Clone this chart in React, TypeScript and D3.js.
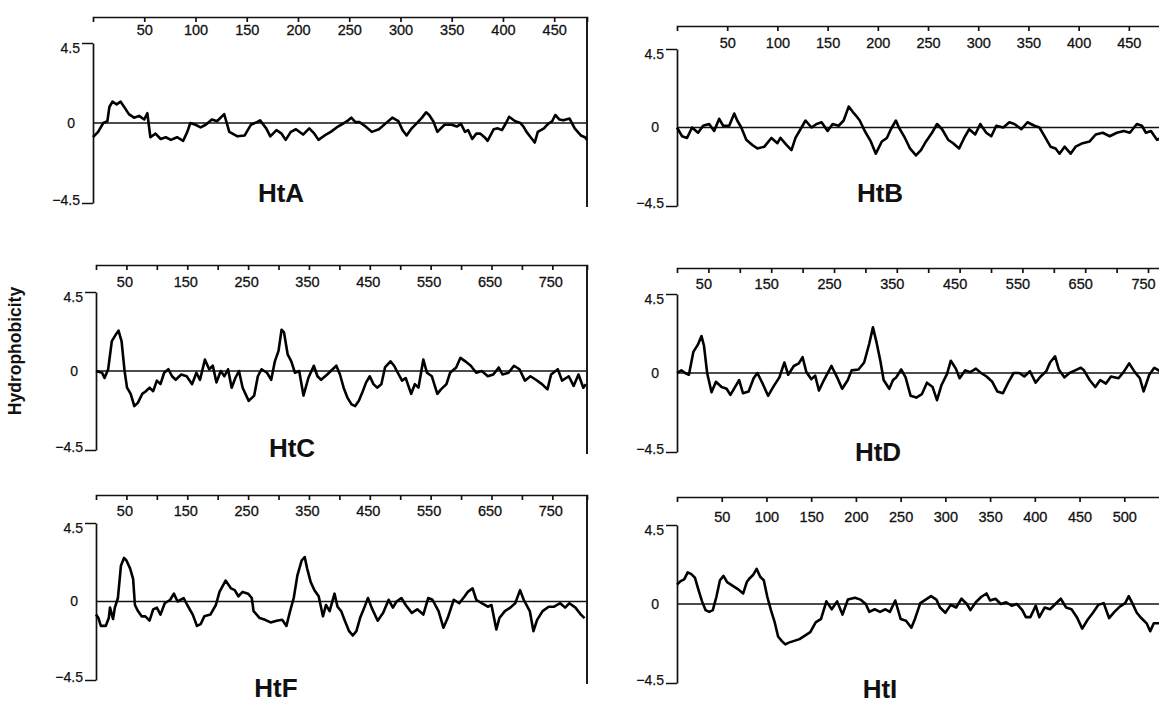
import React, { useEffect, useRef } from 'react';
import * as d3 from 'd3';

// hydrophobicity profiles: [residue, value]
const htA = [[0,-0.8],[5,-0.5],[10,0],[14,0.1],[16,0.9],[19,1.2],[23,1.05],[27,1.2],[31,0.85],[35,0.5],[40,0.3],[45,0.4],[50,0.2],[53,0.55],[56,-0.8],[61,-0.6],[66,-0.9],[71,-0.8],[76,-0.95],[82,-0.8],[88,-1.0],[92,-0.5],[95,0],[100,-0.1],[105,-0.25],[110,-0.1],[116,0.2],[121,0.1],[128,0.5],[133,-0.5],[141,-0.75],[148,-0.7],[154,-0.1],[160,0.05],[163,0.15],[169,-0.3],[173,-0.75],[179,-0.4],[184,-0.6],[188,-0.95],[193,-0.5],[198,-0.35],[205,-0.65],[211,-0.3],[216,-0.6],[220,-0.95],[226,-0.7],[232,-0.5],[239,-0.2],[245,0],[249,0.15],[252,0.3],[256,0.05],[260,0.05],[266,-0.2],[272,-0.5],[279,-0.35],[287,0.05],[292,0.3],[298,0.1],[302,-0.4],[306,-0.7],[311,-0.3],[317,0.05],[321,0.3],[325,0.6],[328,0.45],[332,0.1],[336,-0.5],[343,-0.1],[350,-0.1],[355,-0.2],[359,-0.05],[363,-0.5],[366,-0.4],[370,-0.9],[374,-0.6],[378,-0.6],[382,-0.8],[385,-1.0],[391,-0.35],[395,-0.3],[399,-0.4],[403,0],[406,0.35],[412,0.1],[417,0],[420,-0.2],[423,-0.5],[427,-0.8],[431,-1.1],[434,-0.5],[440,-0.3],[444,-0.05],[448,0.1],[451,0.45],[455,0.2],[459,0.15],[465,0.25],[470,-0.3],[476,-0.7],[480,-0.8],[482,-0.95]];

const htB = [[0,0],[5,-0.5],[10,-0.6],[15,0],[21,-0.3],[26,0.1],[32,0.2],[37,-0.2],[42,0.5],[46,0.1],[52,0.1],[57,0.8],[60,0.4],[64,0],[69,-0.7],[75,-1.0],[80,-1.2],[87,-1.1],[94,-0.6],[100,-0.9],[103,-0.6],[109,-1.0],[114,-1.3],[118,-0.6],[123,-0.1],[128,0.4],[134,0],[139,0.2],[144,0.3],[150,-0.2],[155,0.2],[161,0.1],[166,0.4],[171,1.2],[175,0.9],[178,0.7],[182,0.4],[187,-0.2],[193,-0.8],[198,-1.5],[204,-0.8],[209,-0.6],[213,-0.1],[218,0.4],[221,0],[227,-0.6],[232,-1.2],[238,-1.6],[243,-1.3],[248,-0.8],[254,-0.3],[259,0.2],[264,-0.1],[270,-0.7],[275,-0.9],[281,-1.2],[286,-0.6],[291,-0.1],[297,-0.4],[302,0.2],[308,-0.3],[313,-0.5],[318,0.1],[325,0],[331,0.3],[336,0.2],[343,-0.1],[349,0.3],[356,0.1],[361,0],[367,-0.6],[372,-1.1],[377,-1.2],[381,-1.5],[386,-1.1],[392,-1.5],[397,-1.1],[404,-0.9],[411,-0.8],[417,-0.4],[424,-0.3],[431,-0.5],[438,-0.3],[445,-0.2],[451,-0.3],[458,0.2],[463,0.1],[467,-0.3],[472,-0.2],[478,-0.7],[483,-0.6],[488,-0.5],[492,-0.6]];

const htC = [[0,0],[10,-0.1],[14,-0.4],[20,0.1],[26,1.7],[33,2.1],[37,2.3],[42,1.7],[47,0],[51,-0.95],[57,-1.3],[63,-2.0],[69,-1.8],[76,-1.3],[82,-1.15],[88,-0.95],[94,-1.15],[100,-0.55],[106,-0.75],[112,-0.1],[119,0.1],[125,-0.3],[131,-0.5],[140,-0.2],[149,-0.3],[158,-0.75],[165,-0.1],[171,-0.5],[179,0.65],[186,0.1],[192,0.3],[198,-0.65],[205,0],[211,-0.3],[217,0.1],[223,-0.95],[229,-0.4],[235,0],[241,-0.95],[251,-1.7],[260,-1.4],[266,-0.3],[272,0.1],[281,-0.1],[288,-0.5],[294,0.55],[300,1.15],[305,2.35],[309,2.2],[315,0.95],[321,0.55],[327,-0.1],[334,0],[341,-1.4],[349,-0.4],[358,0.3],[364,-0.3],[370,-0.5],[380,-0.2],[389,0.1],[395,0.3],[401,-0.2],[407,-0.95],[413,-1.5],[420,-1.9],[426,-2.0],[432,-1.7],[438,-1.2],[444,-0.65],[450,-0.3],[456,-0.75],[462,-0.95],[469,-0.75],[475,0.2],[484,0.55],[490,0.3],[496,-0.1],[503,-0.55],[509,-0.4],[518,-1.3],[524,-0.75],[530,-0.95],[538,0.65],[544,-0.1],[552,-0.3],[561,-1.3],[567,-1.05],[576,-0.75],[582,-0.1],[592,0.2],[599,0.75],[607,0.55],[616,0.3],[625,-0.1],[634,0],[644,-0.3],[653,-0.2],[662,0.2],[668,-0.2],[678,-0.1],[687,0.3],[696,0.1],[705,-0.55],[714,-0.3],[723,-0.5],[733,-0.75],[742,-1.05],[748,-0.2],[759,0.1],[766,-0.55],[777,-0.3],[785,-0.85],[793,-0.2],[801,-0.95],[805,-0.75]];

const htD = [[0,0],[7,0.15],[13,0],[19,-0.1],[26,1.2],[33,1.6],[39,2.1],[43,1.55],[48,0],[55,-1.1],[62,-0.5],[71,-0.8],[79,-0.9],[85,-1.25],[94,-0.7],[99,-0.4],[105,-1.15],[114,-1.05],[122,-0.3],[128,0],[137,-0.65],[145,-1.3],[154,-0.75],[163,-0.25],[171,0.6],[177,-0.1],[186,0.4],[194,0.55],[200,0.9],[206,0.05],[214,-0.35],[220,-0.15],[226,-1.0],[234,-0.4],[246,0.4],[255,-0.25],[263,-0.9],[272,-0.4],[278,0.15],[289,0.2],[298,0.6],[306,1.65],[312,2.6],[318,1.7],[324,0.65],[329,-0.4],[338,-0.9],[344,-0.4],[349,-0.25],[357,0.2],[364,-0.25],[372,-1.3],[381,-1.4],[390,-1.2],[398,-0.55],[407,-0.8],[414,-1.55],[421,-0.7],[430,-0.05],[436,0.7],[444,0.25],[450,-0.3],[459,0.15],[467,0.05],[476,0.25],[484,0],[493,-0.2],[502,-0.5],[510,-1.05],[519,-1.15],[528,-0.5],[536,0],[545,0],[553,-0.2],[562,0.1],[571,-0.55],[579,-0.2],[588,0.1],[594,0.6],[602,0.95],[608,0.2],[617,-0.25],[625,0],[634,0.15],[643,0.3],[648,0.15],[657,-0.4],[666,-0.8],[674,-0.4],[683,-0.6],[691,-0.2],[703,-0.3],[711,0.05],[720,0.55],[729,0.05],[737,-0.3],[743,-1.05],[752,-0.1],[760,0.3],[769,0.1],[775,0],[785,-0.2]];

const htF = [[0,-0.75],[4,-0.95],[8,-1.4],[16,-1.4],[21,-0.95],[23,-0.35],[28,-1.0],[31,-0.35],[36,0.2],[41,2.05],[46,2.5],[50,2.35],[56,1.9],[61,1.3],[64,-0.2],[69,-0.55],[75,-0.85],[81,-0.85],[88,-1.1],[94,-0.45],[100,-0.35],[106,-0.75],[113,-0.1],[122,0.1],[128,0.45],[134,0],[144,0.2],[150,-0.2],[159,-0.75],[166,-1.4],[172,-1.3],[178,-0.85],[188,-0.75],[197,-0.2],[203,0.55],[213,1.2],[222,0.75],[228,0.65],[234,0.3],[241,0.55],[250,0.45],[256,0.2],[259,-0.55],[269,-0.95],[278,-1.05],[287,-1.2],[297,-1.1],[306,-1.05],[313,-1.4],[319,-0.55],[325,0.2],[331,1.5],[338,2.35],[343,2.55],[347,1.9],[353,1.1],[359,0.65],[366,0.3],[373,-0.85],[378,-0.2],[384,-0.55],[392,0.45],[397,-0.3],[403,-0.55],[409,-1.1],[416,-1.7],[422,-1.95],[428,-1.7],[434,-0.95],[441,-0.35],[447,0.2],[453,-0.35],[463,-1.1],[472,-0.65],[481,0.1],[488,-0.35],[494,0],[502,0.2],[509,-0.2],[519,-0.65],[528,-0.45],[538,-0.75],[546,0.2],[553,0.1],[563,-0.55],[571,-1.5],[578,-0.95],[588,0.1],[597,-0.1],[606,0.3],[611,0.55],[619,0.75],[625,0.1],[634,-0.1],[644,-0.3],[650,-0.2],[658,-1.6],[663,-0.95],[672,-0.55],[681,-0.35],[689,-0.1],[697,0.65],[703,0.1],[713,-0.55],[719,-1.7],[725,-1.05],[734,-0.55],[744,-0.3],[753,-0.3],[763,-0.1],[771,-0.35],[778,-0.1],[788,-0.35],[797,-0.75],[803,-0.95]];

const htI = [[0,1.1],[4,1.3],[8,1.4],[12,1.8],[16,1.7],[20,1.5],[24,0.8],[28,0.15],[32,-0.35],[36,-0.45],[40,-0.35],[44,0.4],[48,1.35],[52,1.6],[56,1.25],[62,1.05],[68,0.85],[74,0.6],[78,1.25],[81,1.45],[85,1.65],[89,2.0],[93,1.55],[97,1.35],[101,0.4],[105,-0.35],[109,-1.0],[113,-1.85],[117,-2.1],[121,-2.3],[125,-2.2],[131,-2.1],[137,-2.0],[143,-1.8],[149,-1.6],[155,-1.05],[161,-0.85],[167,0.15],[173,-0.3],[179,0.15],[185,-0.6],[191,0.25],[199,0.35],[205,0.25],[211,0],[215,-0.45],[221,-0.3],[227,-0.45],[233,-0.3],[238,-0.45],[244,0.2],[250,-0.85],[256,-0.95],[262,-1.35],[266,-0.85],[272,0.05],[278,0.25],[284,0.45],[290,0.25],[294,-0.2],[300,-0.5],[306,-0.05],[312,-0.2],[318,0.3],[324,0],[328,-0.35],[334,0.1],[340,0.4],[346,0.6],[350,0.2],[356,0.3],[362,0],[368,0.1],[374,-0.1],[380,0],[386,-0.35],[390,-0.75],[395,-0.75],[401,-0.1],[405,-0.75],[411,-0.2],[417,-0.3],[423,0],[429,0.3],[435,-0.2],[441,-0.3],[447,-0.75],[453,-1.4],[459,-0.9],[465,-0.5],[471,-0.05],[477,0.05],[483,-0.8],[489,-0.45],[495,-0.15],[501,0.05],[505,0.45],[509,0.05],[514,-0.5],[519,-0.8],[525,-1.1],[529,-1.55],[533,-1.1],[540,-1.1],[548,-1.0]];

const ticks450 = [50, 100, 150, 200, 250, 300, 350, 400, 450];
const ticks750 = [50, 100, 150, 200, 250, 300, 350, 400, 450, 500, 550, 600, 650, 700, 750];
const labels750 = [50, 150, 250, 350, 450, 550, 650, 750];
const ticks500 = [50, 100, 150, 200, 250, 300, 350, 400, 450, 500];
const yLabels = [4.5, 0, -4.5];

const panels = [
  { name: 'HtA', data: htA, len: 482, ticks: ticks450, labels: ticks450, left: 93, right: 587, axisY: 17, lab: 13, ldx: 0, top: 43, bot: 203, tx: 281, ty: 202 },
  { name: 'HtB', data: htB, len: 490, ticks: ticks450, labels: ticks450, left: 677, right: 1169, axisY: 26, lab: 17, ldx: 0, top: 49, bot: 206, tx: 880, ty: 202 },
  { name: 'HtC', data: htC, len: 807, ticks: ticks750, labels: labels750, left: 96, right: 587, axisY: 265, lab: 17, ldx: -2, top: 292, bot: 450, tx: 292, ty: 457 },
  { name: 'HtD', data: htD, len: 785, ticks: ticks750, labels: labels750, left: 677, right: 1170, axisY: 268, lab: 16, ldx: -5, top: 294, bot: 452, tx: 878, ty: 461 },
  { name: 'HtF', data: htF, len: 807, ticks: ticks750, labels: labels750, left: 96, right: 587, axisY: 495, lab: 16, ldx: -2, top: 523, bot: 680, tx: 276, ty: 697 },
  { name: 'HtI', data: htI, len: 550, ticks: ticks500, labels: ticks500, left: 677, right: 1169, axisY: 497, lab: 20, ldx: 0, top: 525, bot: 683, tx: 880, ty: 698 },
];

const font = '"Liberation Sans", Arial, Helvetica, sans-serif';

const App = () => {
  const svgRef = useRef(null);

  useEffect(() => {
    const svg = d3.select(svgRef.current);
    svg.selectAll('*').remove();

    panels.forEach(p => {
      const x = d3.scaleLinear().domain([0, p.len]).range([p.left, p.right]);
      const y = d3.scaleLinear().domain([-4.5, 4.5]).range([p.bot, p.top]);
      const g = svg.append('g');

      // top residue axis, labels hang below the ticks
      const xAxis = d3.axisBottom(x)
        .tickValues(p.ticks)
        .tickSize(5)
        .tickSizeOuter(5)
        .tickPadding(p.lab - 10)
        .tickFormat(d => (p.labels.includes(d) ? String(d) : ''));
      const ax = g.append('g').attr('transform', `translate(0,${p.axisY})`).call(xAxis);
      ax.select('.domain').attr('stroke', '#111').attr('stroke-width', 1.7);
      ax.selectAll('.tick line').attr('stroke', '#111').attr('stroke-width', 1.7);
      ax.selectAll('text').attr('font-family', font).attr('font-size', 14.5).attr('fill', '#111')
        .attr('stroke', '#111').attr('stroke-width', 0.3)
        .attr('dx', p.ldx);

      // right border
      g.append('line')
        .attr('x1', p.right).attr('x2', p.right)
        .attr('y1', p.axisY).attr('y2', p.bot + 4)
        .attr('stroke', '#111').attr('stroke-width', 1.9);

      // hydrophobicity axis
      const yAxis = d3.axisLeft(y).tickValues(yLabels).tickSize(11).tickSizeOuter(0).tickPadding(2)
        .tickFormat(d => (d < 0 ? '\u2212' + Math.abs(d) : String(d)));
      const ay = g.append('g').attr('transform', `translate(${p.left},0)`).call(yAxis);
      ay.select('.domain').attr('stroke', '#111').attr('stroke-width', 1.7);
      ay.selectAll('.tick line').attr('stroke', '#111').attr('stroke-width', 1.5)
        .attr('x2', d => (d === 0 ? 0 : -11));
      ay.selectAll('text').attr('font-family', font).attr('font-size', 14).attr('fill', '#111')
        .attr('stroke', '#111').attr('stroke-width', 0.25)
        .attr('x', d => (d === 0 ? -18 : -13))
        .attr('dy', d => (d > 0 ? '0.65em' : d < 0 ? '0.1em' : '0.32em'));

      // zero line
      g.append('line')
        .attr('x1', p.left).attr('x2', p.right)
        .attr('y1', y(0)).attr('y2', y(0))
        .attr('stroke', '#111').attr('stroke-width', 1.5);

      const line = d3.line().x(d => x(d[0])).y(d => y(d[1]));
      g.append('path')
        .datum(p.data)
        .attr('d', line)
        .attr('fill', 'none')
        .attr('stroke', '#000')
        .attr('stroke-width', 2.6)
        .attr('stroke-linejoin', 'round');

      g.append('text')
        .attr('x', p.tx).attr('y', p.ty)
        .attr('text-anchor', 'middle')
        .attr('font-family', font).attr('font-weight', 'bold').attr('font-size', 26)
        .attr('fill', '#111')
        .text(p.name);
    });

    svg.append('text')
      .attr('transform', 'translate(21,351) rotate(-90)')
      .attr('text-anchor', 'middle')
      .attr('font-family', font).attr('font-weight', 'bold').attr('font-size', 17.5)
      .attr('fill', '#111')
      .text('Hydrophobicity');
  }, []);

  return (
    <svg ref={svgRef} width="1159" height="703"
      style={{ position: 'absolute', left: 0, top: 0, background: '#fff' }}></svg>
  );
};

export default App;
